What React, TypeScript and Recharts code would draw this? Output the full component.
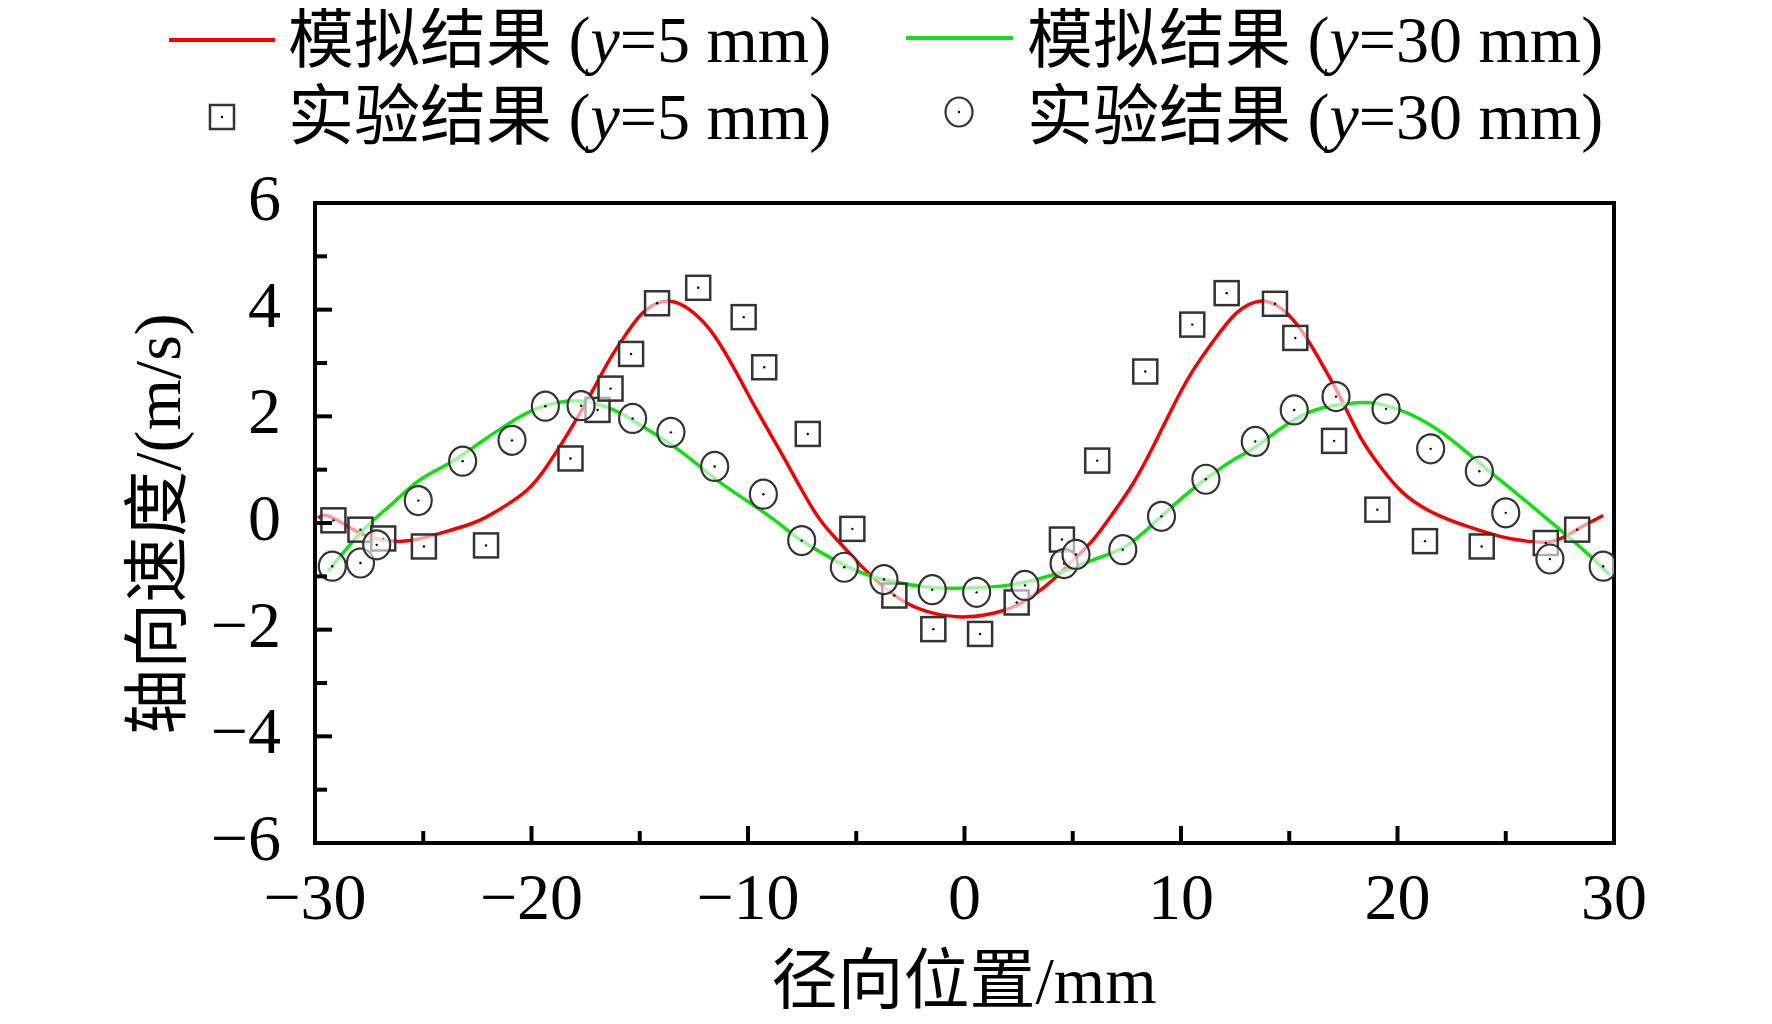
import { ComposedChart, Line, Scatter, XAxis, YAxis, ReferenceArea, Legend } from "recharts"

// simulation, y = 5 mm
const sim5X = [-29.85, -29.3, -27.9, -26.7, -25.6, -24.2, -22.7, -21.5, -20.2, -19.3, -18.5, -17.76, -17.15, -16.4, -15.6, -14.7, -13.6, -12.7, -11.75, -10.7, -9.6, -8.5, -7.6, -6.67, -5.75, -4.83, -3.75, -2.67, -1.44, 0.1, 1.64, 2.87, 4.1, 5.03, 5.95, 6.87, 7.8, 8.72, 9.64, 10.57, 11.6, 12.57, 13.65, 14.7, 15.65, 16.4, 17.34, 18.27, 19.2, 20.27, 21.65, 23.2, 24.73, 25.97, 27.2, 28.28, 29.5]
const sim5V = [0.09, 0.12, -0.19, -0.33, -0.33, -0.19, 0.0, 0.25, 0.62, 1.06, 1.56, 2.06, 2.5, 3.06, 3.56, 4.0, 4.16, 4.0, 3.62, 2.94, 2.12, 1.34, 0.68, 0.06, -0.375, -0.78, -1.19, -1.5, -1.69, -1.76, -1.66, -1.44, -1.06, -0.69, -0.31, 0.19, 0.75, 1.44, 2.19, 2.87, 3.47, 3.94, 4.16, 4.0, 3.56, 3.06, 2.37, 1.62, 1.06, 0.56, 0.19, -0.06, -0.25, -0.34, -0.34, -0.125, 0.14]

// simulation, y = 30 mm
const sim30X = [-29.4, -28.7, -27.6, -26.4, -25.15, -23.8, -22.4, -21.15, -19.9, -18.5, -17.15, -15.9, -14.5, -13.0, -11.45, -9.9, -8.5, -7.6, -5.6, -3.75, -1.75, 0.1, 2.1, 4.1, 5.95, 7.5, 9.03, 10.9, 12.7, 13.5, 15.5, 17.34, 18.6, 20.1, 21.96, 23.8, 25.66, 27.5, 28.74, 29.8]
const sim30V = [-0.91, -0.56, -0.06, 0.375, 0.81, 1.12, 1.5, 1.84, 2.12, 2.28, 2.25, 2.06, 1.72, 1.31, 0.81, 0.375, -0.03, -0.31, -0.78, -1.06, -1.2, -1.22, -1.16, -0.97, -0.69, -0.42, 0.1, 0.75, 1.25, 1.44, 2.0, 2.22, 2.26, 2.12, 1.72, 1.12, 0.5, -0.125, -0.56, -0.97]

// experiment, y = 5 mm
const exp5X = [-29.15, -27.9, -26.85, -24.97, -22.1, -18.2, -16.95, -16.35, -15.4, -14.2, -12.3, -10.2, -9.25, -7.24, -5.18, -3.24, -1.44, 0.72, 2.41, 4.5, 6.13, 8.35, 10.52, 12.11, 14.34, 15.28, 17.07, 19.07, 21.27, 23.89, 26.85, 28.3]
const exp5V = [0.05, -0.125, -0.29, -0.44, -0.42, 1.21, 2.12, 2.52, 3.17, 4.12, 4.41, 3.86, 2.92, 1.67, -0.11, -1.36, -1.99, -2.08, -1.49, -0.31, 1.17, 2.84, 3.72, 4.31, 4.11, 3.47, 1.54, 0.25, -0.34, -0.44, -0.375, -0.125]

// experiment, y = 30 mm
const exp30X = [-29.2, -27.9, -27.15, -25.23, -23.18, -20.9, -19.36, -17.71, -15.33, -13.56, -11.54, -9.29, -7.52, -5.55, -3.72, -1.49, 0.56, 2.79, 4.6, 5.15, 7.31, 9.1, 11.15, 13.43, 15.23, 17.16, 19.47, 21.53, 23.78, 25.0, 27.04, 29.5]
const exp30V = [-0.81, -0.75, -0.41, 0.42, 1.16, 1.55, 2.19, 2.2, 1.96, 1.7, 1.06, 0.54, -0.33, -0.83, -1.06, -1.25, -1.3, -1.17, -0.76, -0.59, -0.5, 0.125, 0.82, 1.53, 2.12, 2.37, 2.14, 1.39, 0.97, 0.19, -0.675, -0.81]

const xTicks = [-30, -25, -20, -15, -10, -5, 0, 5, 10, 15, 20, 25, 30]
const yTicks = [-6, -5, -4, -3, -2, -1, 0, 1, 2, 3, 4, 5, 6]

const toPoints = (xs: number[], vs: number[]) => xs.map((x, i) => ({ x, y: vs[i] }))

const sim5 = toPoints(sim5X, sim5V)
const sim30 = toPoints(sim30X, sim30V)
const exp5 = toPoints(exp5X, exp5V)
const exp30 = toPoints(exp30X, exp30V)

const RED = "#f40000"
const GREEN = "#12e012"
const FONT = '"Liberation Serif", "Noto Sans CJK SC", serif'

const fmt = (v: number) => (v < 0 ? "\u2212" + Math.abs(v) : String(v))

function XTick(props: any) {
  const { x, y, payload } = props
  const v = payload.value
  const major = v % 10 === 0
  return (
    <g>
      <line x1={x} x2={x} y1={y} y2={y - (major ? 17 : 12)} stroke="#000" strokeWidth={4} />
      {major && (
        <text x={x} y={y + 76} textAnchor="middle" fontSize={66} fontFamily={FONT} fill="#000">
          {fmt(v)}
        </text>
      )}
    </g>
  )
}

function YTick(props: any) {
  const { x, y, payload } = props
  const v = payload.value
  const major = v % 2 === 0
  return (
    <g>
      <line x1={x} x2={x + (major ? 17 : 12)} y1={y} y2={y} stroke="#000" strokeWidth={4} />
      {major && (
        <text x={x - 34} y={y + 17} textAnchor="end" fontSize={66} fontFamily={FONT} fill="#000">
          {fmt(v)}
        </text>
      )}
    </g>
  )
}

function SquareMark(props: any) {
  const { cx, cy } = props
  return (
    <g>
      <rect x={cx - 12} y={cy - 12} width={24} height={24} fill="rgba(255,255,255,0.6)" stroke="#333" strokeWidth={2.5} />
      <circle cx={cx} cy={cy} r={1.2} fill="#000" />
    </g>
  )
}

function CircleMark(props: any) {
  const { cx, cy } = props
  return (
    <g>
      <ellipse cx={cx} cy={cy} rx={13.5} ry={14.5} fill="rgba(255,255,255,0.6)" stroke="#333" strokeWidth={2.2} />
      <circle cx={cx} cy={cy} r={1.2} fill="#000" />
    </g>
  )
}

function LegendLabel({ x, y, h, d }: { x: number; y: number; h: string; d: string }) {
  return (
    <text x={x} y={y} fontSize={66} fontFamily={FONT} fill="#000">
      {h} (<tspan fontStyle="italic">y</tspan>={d} mm)
    </text>
  )
}

function LegendBox() {
  return (
    <svg width={1756} height={160} style={{ display: "block", overflow: "visible" }}>
      <line x1={161} x2={267} y1={32} y2={32} stroke={RED} strokeWidth={4} />
      <LegendLabel x={280} y={54} h="模拟结果" d="5" />
      <line x1={898} x2={1005} y1={30} y2={30} stroke={GREEN} strokeWidth={4} />
      <LegendLabel x={1019} y={54} h="模拟结果" d="30" />
      <SquareMark cx={214} cy={109} />
      <LegendLabel x={280} y={131} h="实验结果" d="5" />
      <CircleMark cx={951} cy={104} />
      <LegendLabel x={1019} y={131} h="实验结果" d="30" />
    </svg>
  )
}

export default function App() {
  return (
    <ComposedChart width={1756} height={1014} margin={{ top: 195, right: 150, bottom: 59, left: 157 }}>
      <XAxis
        dataKey="x"
        type="number"
        domain={[-30, 30]}
        ticks={xTicks}
        interval={0}
        height={120}
        axisLine={false}
        tickLine={false}
        tickSize={0}
        tickMargin={0}
        tick={<XTick />}
        allowDataOverflow
      />
      <YAxis
        type="number"
        domain={[-6, 6]}
        ticks={yTicks}
        interval={0}
        width={150}
        axisLine={false}
        tickLine={false}
        tickSize={0}
        tickMargin={0}
        tick={<YTick />}
        allowDataOverflow
      />
      <ReferenceArea x1={-30} x2={30} y1={-6} y2={6} fill="none" fillOpacity={0} stroke="#000" strokeWidth={4} strokeOpacity={1} />
      <Line data={sim5} dataKey="y" type="natural" stroke={RED} strokeWidth={3.5} dot={false} isAnimationActive={false} />
      <Line data={sim30} dataKey="y" type="natural" stroke={GREEN} strokeWidth={3.5} dot={false} isAnimationActive={false} />
      <Scatter data={exp5} dataKey="y" shape={<SquareMark />} isAnimationActive={false} />
      <Scatter data={exp30} dataKey="y" shape={<CircleMark />} isAnimationActive={false} />
      <Legend
        layout="vertical"
        align="center"
        verticalAlign="middle"
        content={<LegendBox />}
        wrapperStyle={{ position: "absolute", top: 0, left: 0, width: 1756, height: 160, margin: 0, padding: 0 }}
      />
      <text x={149} y={516} transform="rotate(-90 149 516)" textAnchor="middle" dominantBaseline="central" fontSize={66} fontFamily={FONT} fill="#000">
        轴向速度/(m/s)
      </text>
      <text x={956} y={972} textAnchor="middle" dominantBaseline="central" fontSize={66} fontFamily={FONT} fill="#000">
        径向位置/mm
      </text>
    </ComposedChart>
  )
}
